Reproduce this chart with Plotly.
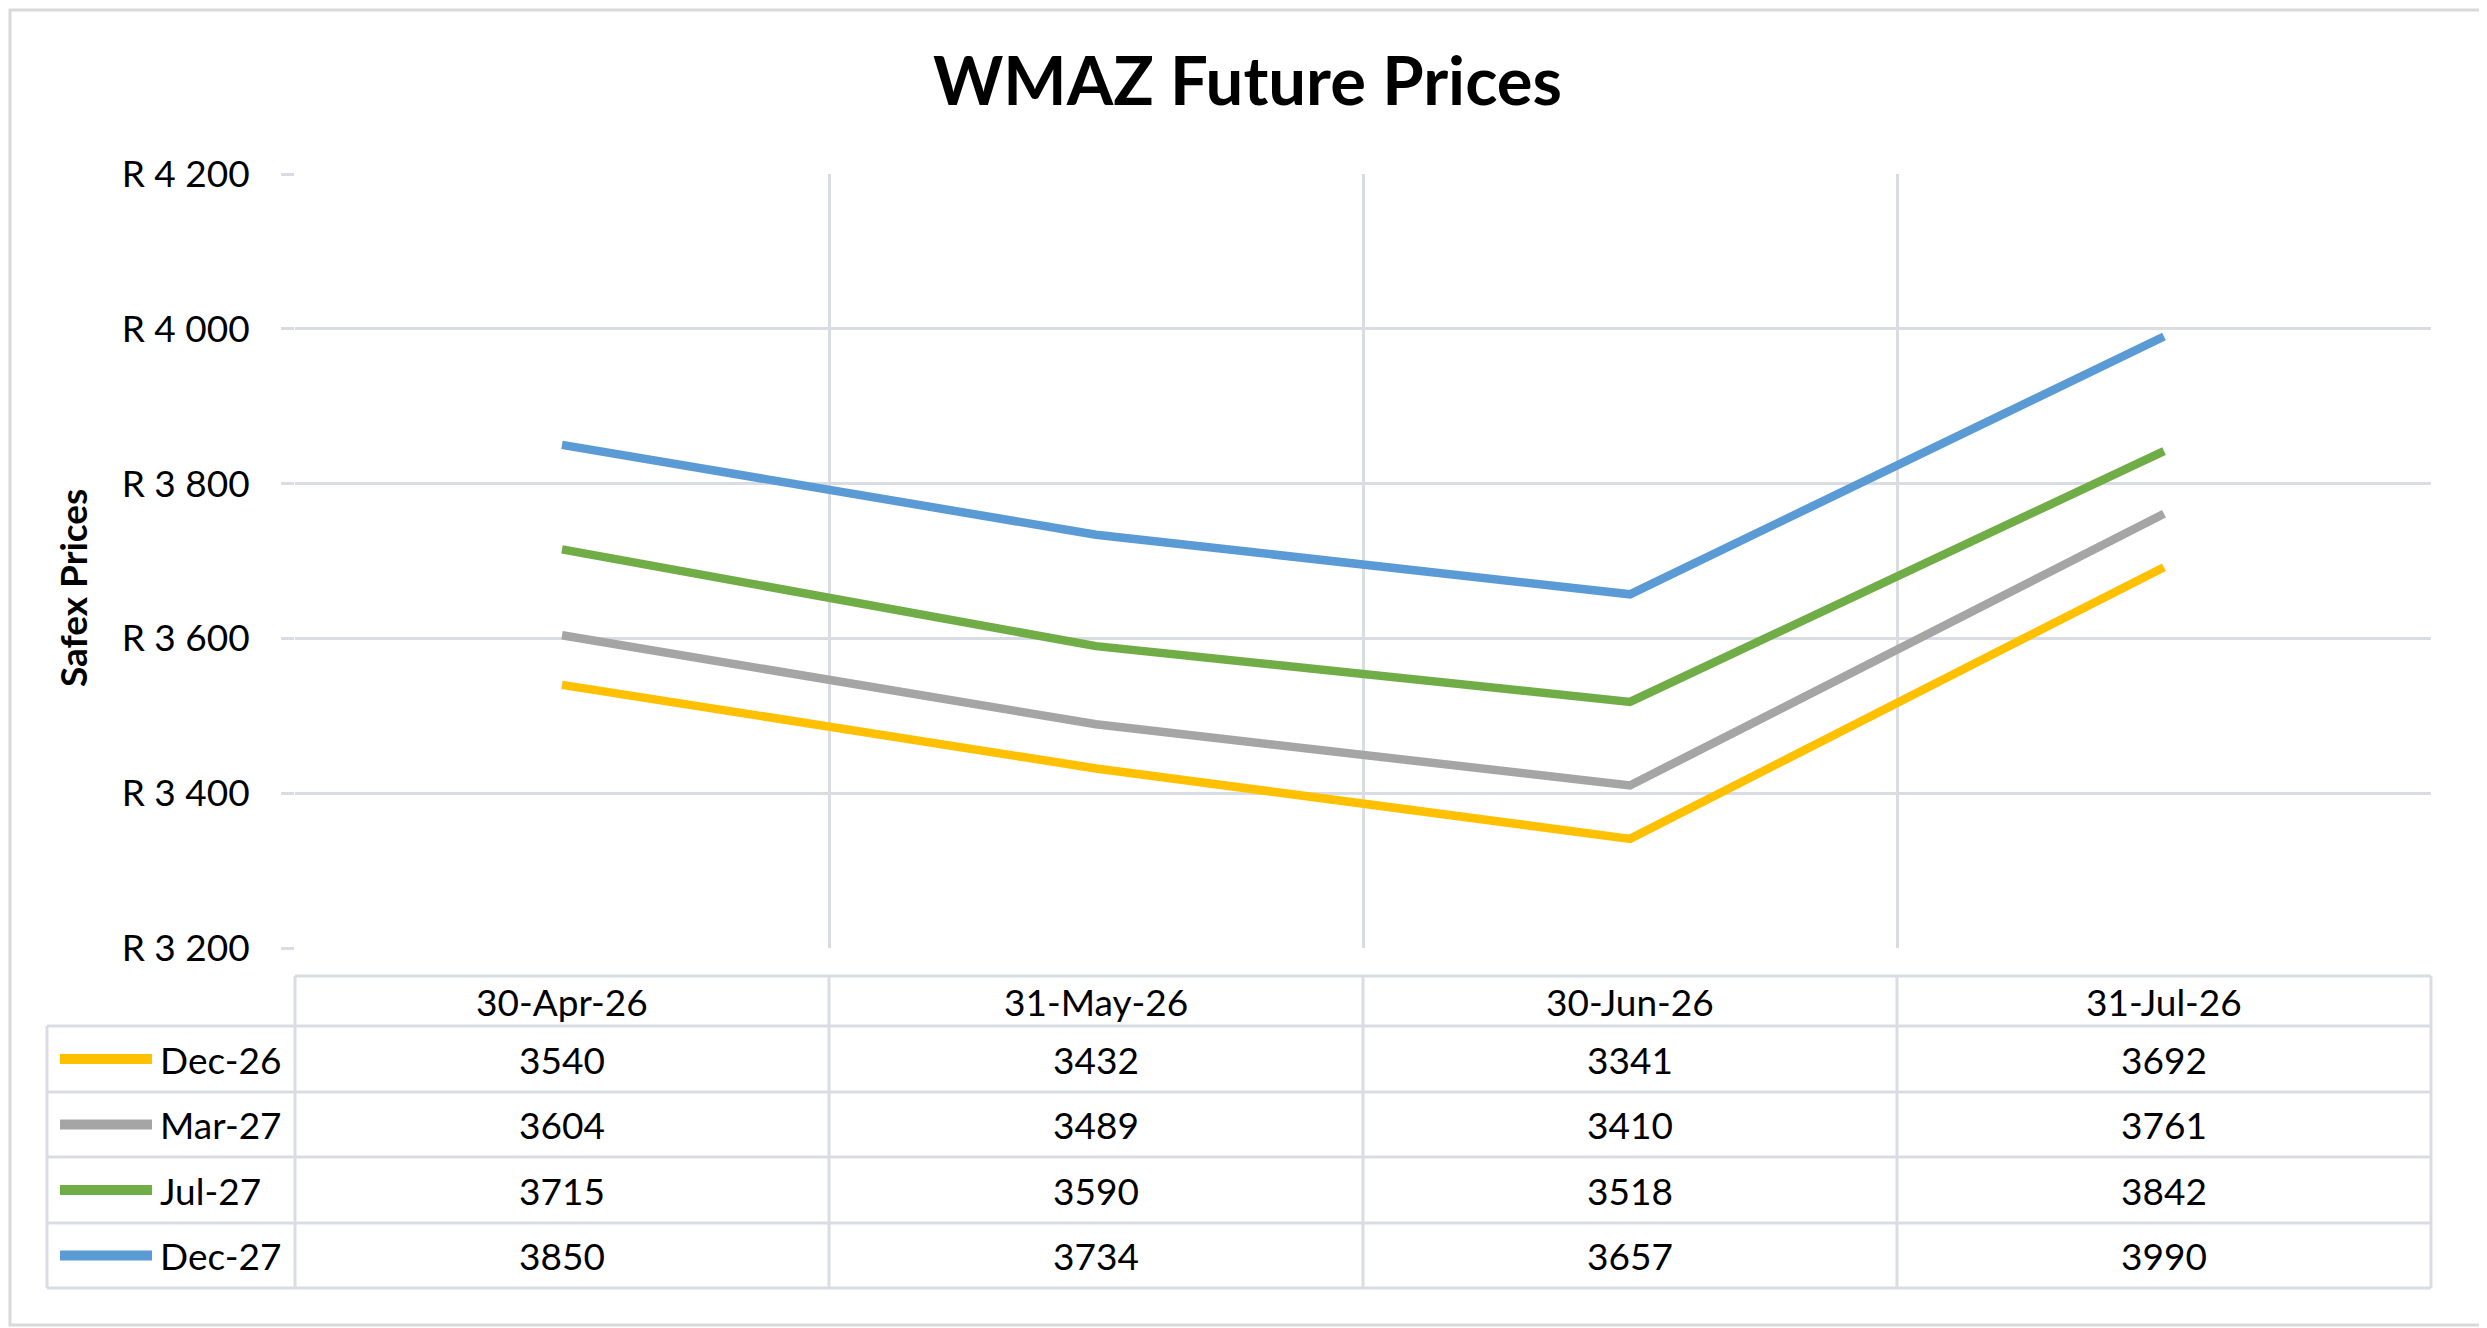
import plotly.graph_objects as go

# data
dates = ['30-Apr-26', '31-May-26', '30-Jun-26', '31-Jul-26']
dec26 = [3540, 3432, 3341, 3692]
mar27 = [3604, 3489, 3410, 3761]
jul27 = [3715, 3590, 3518, 3842]
dec27 = [3850, 3734, 3657, 3990]

series_names = ['Dec-26', 'Mar-27', 'Jul-27', 'Dec-27']
series_vals = [dec26, mar27, jul27, dec27]
colors = ['#FFC000', '#A5A5A5', '#70AD47', '#5B9BD5']

y_ticks = [3200, 3400, 3600, 3800, 4000, 4200]
y_labels = ['R ' + f'{v:,}'.replace(',', ' ') for v in y_ticks]

# page body adds an 8px margin, so the figure is shifted by that much
OFF = 8
W, H = 2487 - OFF, 1328 - OFF
L, R, T, B = 295 - OFF, 56, 174 - OFF, 380
PW, PH = W - L - R, H - T - B
FONT = 'Lato, Arial'
GRID = '#d9dde3'
FS = 37


def px(xp):
    # xp given in screen pixels
    return (xp - OFF - L) / PW


def py(yp):
    return 1 - (yp - OFF - T) / PH


fig = go.Figure()
for name, vals, c in zip(series_names, series_vals, colors):
    fig.add_trace(go.Scatter(x=dates, y=vals, name=name, mode='lines',
                             line=dict(color=c, width=8.5)))

# data table under the plot
header_top, header_bot = 976, 1026
row_edges = [1026, 1092, 1157, 1223, 1288]
tab_left = 47

shapes = []
line = dict(color=GRID, width=3)
shapes.append(dict(type='line', xref='paper', yref='paper', x0=0, x1=1,
                   y0=py(header_top), y1=py(header_top), line=line))
for yy in row_edges:
    shapes.append(dict(type='line', xref='paper', yref='paper', x0=px(tab_left), x1=1,
                       y0=py(yy), y1=py(yy), line=line))
for k in range(len(dates) + 1):
    xx = k / len(dates)
    shapes.append(dict(type='line', xref='paper', yref='paper', x0=xx, x1=xx,
                       y0=py(header_top), y1=py(row_edges[-1]), line=line))
shapes.append(dict(type='line', xref='paper', yref='paper', x0=px(tab_left), x1=px(tab_left),
                   y0=py(row_edges[0]), y1=py(row_edges[-1]), line=line))
# chart border
shapes.append(dict(type='rect', xref='paper', yref='paper', x0=px(OFF + 2), x1=px(2484),
                   y0=py(OFF + 2), y1=py(1325), line=dict(color='#d9d9d9', width=3)))

cell_font = dict(size=FS, color='black', family=FONT)
annotations = []
for d in dates:
    annotations.append(dict(x=d, xref='x', y=py((header_top + header_bot) / 2), yref='paper',
                            xanchor='center', yanchor='middle',
                            text=d, showarrow=False, font=cell_font))
for i, (name, vals, c) in enumerate(zip(series_names, series_vals, colors)):
    ymid = py((row_edges[i] + row_edges[i + 1]) / 2)
    shapes.append(dict(type='line', xref='paper', yref='paper', x0=px(60), x1=px(152),
                       y0=ymid, y1=ymid, line=dict(color=c, width=10)))
    annotations.append(dict(x=px(158), xref='paper', y=ymid, yref='paper', text=name,
                            showarrow=False, xanchor='left', yanchor='middle', font=cell_font))
    for d, v in zip(dates, vals):
        annotations.append(dict(x=d, xref='x', y=ymid, yref='paper', text=str(v),
                                xanchor='center', yanchor='middle',
                                showarrow=False, font=cell_font))

# y axis title
annotations.append(dict(x=px(72), xref='paper', y=py(588), yref='paper',
                        text='<b>Safex Prices</b>', textangle=-90, showarrow=False,
                        xanchor='center', yanchor='middle',
                        font=dict(size=37, color='black', family=FONT)))

fig.update_layout(
    width=W, height=H,
    margin=dict(l=L, r=R, t=T, b=B),
    paper_bgcolor='white', plot_bgcolor='white',
    showlegend=False,
    title=dict(text='<b>WMAZ Future Prices</b>', x=0.5, xanchor='center',
               y=1 - (82 - OFF) / H, yanchor='middle',
               font=dict(size=67, color='black', family=FONT)),
    shapes=shapes, annotations=annotations,
    font=dict(family=FONT, color='black'),
)
fig.update_xaxes(type='category', range=[-0.5, 3.5], tickson='boundaries', showgrid=True,
                 gridcolor=GRID, gridwidth=3, showticklabels=False, ticks='',
                 showline=False, zeroline=False)
fig.update_yaxes(range=[3200, 4200], tickvals=y_ticks, ticktext=y_labels,
                 showgrid=True, gridcolor=GRID, gridwidth=3, ticks='outside',
                 ticklen=13, tickwidth=3, tickcolor=GRID, showline=False, zeroline=False,
                 ticklabelstandoff=24,
                 tickfont=dict(size=FS, color='black', family=FONT))

fig.write_html('out.html')
